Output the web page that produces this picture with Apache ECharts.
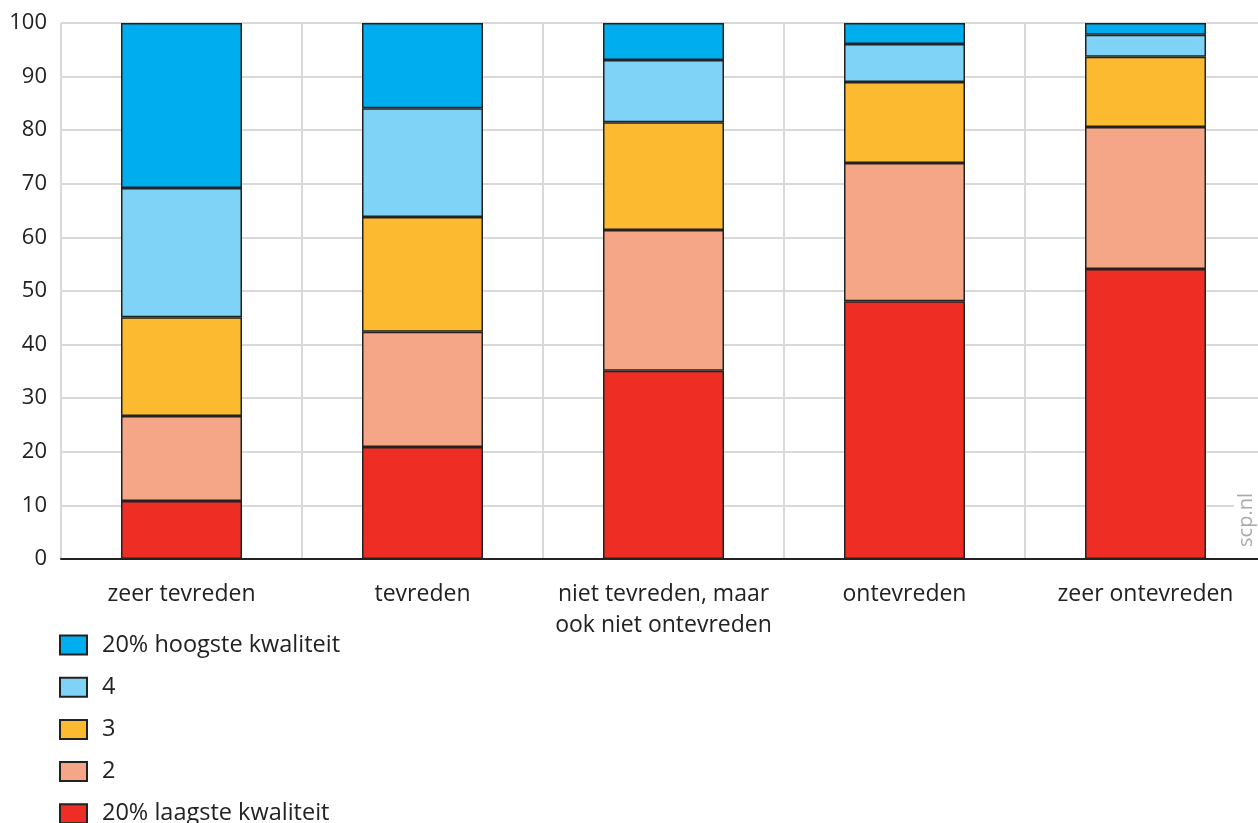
<!DOCTYPE html>
<html>
<head>
<meta charset="utf-8">
<script src="https://cdn.jsdelivr.net/npm/echarts@6/dist/echarts.min.js"></script>
<style>
  html, body { margin: 0; padding: 0; background: #fff; overflow: hidden; }
  #main { width: 1266px; height: 880px; }
</style>
</head>
<body>
<div id="main"></div>
<script>
// categories on the x axis
var categories = ['zeer tevreden', 'tevreden', 'niet tevreden, maar\nook niet ontevreden', 'ontevreden', 'zeer ontevreden'];

// stacked shares (%), bottom to top
var laagste = [10.8, 20.9, 35.1, 48.1, 54.1];
var q2 = [15.9, 21.5, 26.3, 25.8, 26.5];
var q3 = [18.4, 21.4, 20.1, 15.1, 13.1];
var q4 = [24.1, 20.3, 11.6, 7.1, 4.1];
var hoogste = [30.8, 15.9, 6.9, 3.9, 2.2];

var seriesNames = ['20% laagste kwaliteit', '2', '3', '4', '20% hoogste kwaliteit'];
var seriesColors = ['#ee2e24', '#f5a687', '#fbba2f', '#7fd3f6', '#00aeef'];
var seriesData = [laagste, q2, q3, q4, hoogste];

var yTicks = [0, 10, 20, 30, 40, 50, 60, 70, 80, 90, 100];

var font = '"Open Sans", "Noto Sans", sans-serif';

var myChart = echarts.init(document.getElementById('main'));

var series = seriesNames.map(function (name, i) {
    return {
        name: name,
        type: 'bar',
        stack: 'total',
        barWidth: 121,
        data: seriesData[i],
        itemStyle: { color: seriesColors[i], borderColor: '#222', borderWidth: 1.5 },
        emphasis: { disabled: true }
    };
});

myChart.setOption({
    animation: false,
    textStyle: { fontFamily: font },
    // container is 880 tall (clipped to 823) so the vertical legend does not wrap
    grid: { left: 61, right: 0, top: 23, bottom: 321, containLabel: false },
    legend: {
        orient: 'vertical',
        left: 59,
        top: 633,
        padding: 0,
        itemWidth: 27,
        itemHeight: 19,
        itemGap: 18.2,
        icon: 'rect',
        data: seriesNames.slice().reverse(),
        textStyle: { fontSize: 23.5, color: '#222', fontFamily: font, padding: [0, 0, 0, 10] }
    },
    xAxis: {
        type: 'category',
        data: categories,
        axisLine: { lineStyle: { color: '#222', width: 2 } },
        axisTick: { alignWithLabel: true, length: 8, lineStyle: { color: '#222', width: 1.5 } },
        splitLine: { show: true, lineStyle: { color: '#d9d9d9', width: 2 } },
        axisLabel: { fontSize: 23, color: '#222', margin: 20, lineHeight: 31, interval: 0 }
    },
    yAxis: {
        type: 'value',
        min: yTicks[0],
        max: yTicks[yTicks.length - 1],
        interval: 10,
        axisLine: { show: false },
        axisTick: { show: false },
        splitLine: { lineStyle: { color: '#d9d9d9', width: 2 } },
        axisLabel: { fontSize: 22, color: '#222', margin: 14 }
    },
    graphic: [
        {
            type: 'rect',
            left: 1234,
            top: 488,
            shape: { width: 32, height: 62 },
            style: { fill: '#fff' },
            z: 10
        },
        {
            type: 'text',
            x: 1246,
            y: 520,
            rotation: Math.PI / 2,
            style: {
                text: 'scp.nl',
                fill: '#aaa',
                font: '20px ' + font,
                align: 'center',
                verticalAlign: 'middle'
            },
            z: 11
        }
    ],
    series: series
});
</script>
</body>
</html>
